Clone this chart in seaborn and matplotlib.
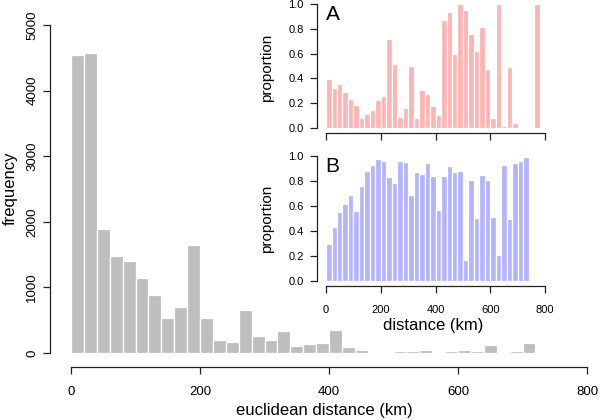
"""
Distance histogram with two proportion insets (A, B).
"""

import numpy as np
import pandas as pd
import matplotlib
matplotlib.use('Agg')
import matplotlib.pyplot as plt
import seaborn as sns

# main histogram: counts per 20 km bin, starting at 0 km
freq = [4540, 4570, 1890, 1480, 1410, 1150, 890, 530, 700, 1640,
        540, 200, 165, 650, 265, 195, 330, 110, 130, 160,
        350, 85, 50, 15, 0, 30, 30, 45, 15, 30,
        50, 25, 115, 0, 30, 148]

# inset A: proportion per 20 km bin
prop_a = [0.394, 0.321, 0.358, 0.291, 0.232, 0.183, 0.078, 0.116, 0.143, 0.224,
          0.256, 0.72, 0.518, 0.089, 0.159, 0.504, 0.084, 0.305, 0.278, 0.175,
          0.102, 0.871, 0.935, 0.596, 1.0, 0.949, 0.76, 0.617, 0.811, 0.472,
          0.084, 1.0, 0.016, 0.493, 0.038, 0.0, 0.0, 0.0, 1.0]

# inset B: proportion per 20 km bin
prop_b = [0.299, 0.433, 0.551, 0.615, 0.69, 0.559, 0.759, 0.88, 0.928, 0.976,
          0.957, 0.834, 0.781, 0.96, 0.952, 0.69, 0.874, 0.856, 0.944, 0.842,
          0.57, 0.837, 0.917, 0.872, 0.882, 0.168, 0.807, 0.503, 0.848, 0.805,
          0.511, 0.211, 0.925, 0.495, 0.947, 0.96, 0.995]

bin_width = 20
dist_ticks = [0, 200, 400, 600, 800]
freq_ticks = [0, 1000, 2000, 3000, 4000, 5000]
prop_ticks = [0.0, 0.2, 0.4, 0.6, 0.8, 1.0]

sns.set_style('ticks')
plt.rcParams['font.family'] = ['Liberation Sans', 'DejaVu Sans']
plt.rcParams['text.color'] = 'black'
plt.rcParams['axes.labelcolor'] = 'black'
plt.rcParams['xtick.color'] = 'black'
plt.rcParams['ytick.color'] = 'black'

W, H = 600, 420
fig = plt.figure(figsize=(6, 4.2), dpi=100)


def px_axes(left, top, right, bottom):
    return fig.add_axes([left / W, 1 - bottom / H, (right - left) / W, (bottom - top) / H])


def draw_hist(ax, values, color):
    n = len(values)
    df = pd.DataFrame({
        'dist': np.arange(n) * bin_width + bin_width / 2,
        'w': values,
    })
    sns.histplot(data=df, x='dist', weights='w', binwidth=bin_width,
                 binrange=(0, n * bin_width), color=color,
                 edgecolor='white', linewidth=0.9, alpha=1, ax=ax)


def r_axes(ax, xb, yb):
    for s in ['top', 'right']:
        ax.spines[s].set_visible(False)
    ax.spines['left'].set_bounds(*yb)
    ax.spines['bottom'].set_bounds(*xb)
    for s in ['left', 'bottom']:
        ax.spines[s].set_color('#222222')
        ax.spines[s].set_linewidth(0.9)
    ax.tick_params(length=5, width=0.9, color='#222222')
    ax.set_facecolor('white')


# main panel
ax = px_axes(50, 10, 598, 367)
draw_hist(ax, freq, '#bebebe')
ax.set_xlim(-32.6, 817)
ax.set_ylim(-213, 5229)
ax.set_xticks(dist_ticks)
ax.set_yticks(freq_ticks)
ax.set_yticklabels([str(t) for t in freq_ticks], rotation=90, va='center')
r_axes(ax, (0, 800), (0, 5000))
ax.tick_params(labelsize=9.5)
ax.tick_params(axis='x', pad=8.5)
ax.tick_params(axis='y', pad=3.5)
ax.set_xlabel('euclidean distance (km)', fontsize=12, labelpad=4)
ax.set_ylabel('frequency', fontsize=12, labelpad=6)

# inset A
ax_a = px_axes(317, 2, 550, 133)
draw_hist(ax_a, prop_a, '#ffb3b3')
ax_a.set_xlim(-33, 818)
ax_a.set_ylim(-0.04, 1.016)
ax_a.set_xticks(dist_ticks)
ax_a.set_xticklabels([])
ax_a.set_yticks(prop_ticks)
ax_a.set_yticklabels([f'{t:.1f}' for t in prop_ticks])
r_axes(ax_a, (0, 800), (0, 1))
ax_a.tick_params(labelsize=8, pad=4.5)
ax_a.set_xlabel('')
ax_a.set_ylabel('proportion', fontsize=11, labelpad=10)
ax_a.text(-2, 0.99, 'A', fontsize=15, va='top', ha='left')

# inset B
ax_b = px_axes(317, 152, 550, 286)
draw_hist(ax_b, prop_b, '#b3b3ff')
ax_b.set_xlim(-33, 818)
ax_b.set_ylim(-0.04, 1.032)
ax_b.set_xticks(dist_ticks)
ax_b.set_yticks(prop_ticks)
ax_b.set_yticklabels([f'{t:.1f}' for t in prop_ticks])
r_axes(ax_b, (0, 800), (0, 1))
ax_b.tick_params(labelsize=8, pad=4.5)
ax_b.tick_params(axis='x', pad=8.5)
ax_b.set_xlabel('distance (km)', fontsize=12, labelpad=2)
ax_b.set_ylabel('proportion', fontsize=11, labelpad=10)
ax_b.text(-2, 0.99, 'B', fontsize=15, va='top', ha='left')

fig.savefig('out.png', dpi=100)
